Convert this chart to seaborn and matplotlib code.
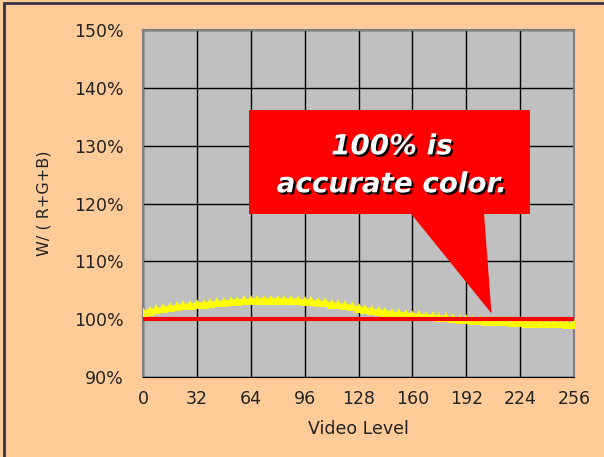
import matplotlib
matplotlib.use("Agg")
import matplotlib.pyplot as plt
import matplotlib.patheffects as pe
from matplotlib.patches import Polygon, Rectangle
import seaborn as sns
import pandas as pd

# measured white balance vs video level (every 4 levels)
levels = list(range(0, 257, 4))
white_pct = [101.3, 101.5, 101.7, 101.9, 102.1, 102.2, 102.4, 102.5, 102.6, 102.7,
             102.8, 102.9, 103.0, 103.1, 103.2, 103.3, 103.3, 103.4, 103.4, 103.4,
             103.4, 103.4, 103.3, 103.3, 103.2, 103.1, 103.0, 102.9, 102.7, 102.6,
             102.4, 102.2, 102.0, 101.8, 101.6, 101.4, 101.3, 101.1, 101.0, 100.9,
             100.8, 100.7, 100.6, 100.5, 100.4, 100.3, 100.2, 100.1, 100.0, 99.9,
             99.8, 99.7, 99.7, 99.6, 99.6, 99.5, 99.5, 99.4, 99.4, 99.4,
             99.3, 99.3, 99.3, 99.2, 99.2]
ref_x = [0, 256]
ref_y = [100, 100]
x_ticks = [0, 32, 64, 96, 128, 160, 192, 224, 256]
y_ticks = [90, 100, 110, 120, 130, 140, 150]

df = pd.DataFrame({"level": levels, "pct": white_pct})

sns.set_style("white")
plt.rcParams["font.family"] = ["DejaVu Sans"]

fig = plt.figure(figsize=(6.04, 4.57), dpi=100, facecolor="#FFCC99")
ax = fig.add_axes([0.2368, 0.175, 0.7135, 0.7594])
ax.set_facecolor("#C0C0C0")

sns.lineplot(data=df, x="level", y="pct", ax=ax, color="#FFFF00", linewidth=2,
             marker="^", markersize=7, markeredgewidth=0, zorder=3)
sns.lineplot(x=ref_x, y=ref_y, ax=ax, color="#FF0000", linewidth=3, zorder=4)

ax.set_xlim(0, 256)
ax.set_ylim(90, 150)
ax.set_xticks(x_ticks)
ax.set_yticks(y_ticks)
ax.set_yticklabels([f"{v}%" for v in y_ticks])
ax.grid(True, color="black", linewidth=1)
ax.set_axisbelow(True)
ax.tick_params(axis="y", labelsize=12.5, length=0, pad=14, labelcolor="#222222")
ax.tick_params(axis="x", labelsize=12.5, length=0, pad=9, labelcolor="#222222")
for side in ["top", "right", "left"]:
    ax.spines[side].set_color("#808080")
    ax.spines[side].set_linewidth(1.5)
ax.spines["bottom"].set_color("black")
ax.set_xlabel("Video Level", fontsize=12.5, labelpad=9, color="#222222")
ax.set_ylabel("W/ ( R+G+B)", fontsize=11.5, labelpad=16, color="#222222")

# callout box
ax.add_patch(Rectangle((0.246, 0.47), 0.652, 0.299, transform=ax.transAxes,
                       facecolor="#FF0000", edgecolor="none", zorder=5))
tip = ax.transAxes.inverted().transform(ax.transData.transform((207, 101)))
ax.add_patch(Polygon([(0.619, 0.475), (0.791, 0.475), tuple(tip)], closed=True,
                     transform=ax.transAxes, facecolor="#FF0000", edgecolor="none", zorder=5))
ax.text(0.577, 0.61, "100% is\naccurate color.", transform=ax.transAxes,
        ha="center", va="center", fontsize=20, fontweight="bold", fontstyle="italic",
        color="white", linespacing=1.45, zorder=6,
        path_effects=[pe.withSimplePatchShadow(offset=(1.5, -1.5), shadow_rgbFace="black", alpha=1)])

# frame lines on left and top of the figure
fig.add_artist(plt.Line2D([0.007, 0.007], [0, 0.994], color="#333344", linewidth=2))
fig.add_artist(plt.Line2D([0.007, 1], [0.994, 0.994], color="#333344", linewidth=2))

fig.savefig("out.png", dpi=100, facecolor=fig.get_facecolor())
